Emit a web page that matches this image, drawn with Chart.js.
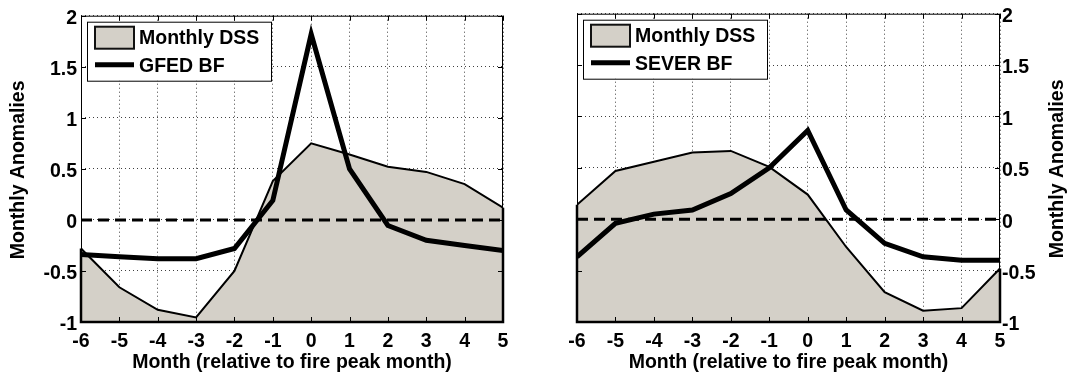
<!DOCTYPE html>
<html>
<head>
<meta charset="utf-8">
<script src="https://cdn.jsdelivr.net/npm/chart.js@4"></script>
<style>
  body { margin: 0; background: #fff; }
  #wrap { position: relative; width: 1071px; height: 376px; }
  canvas { position: absolute; top: 0; }
  #gfed-chart { left: 0; }
  #sever-chart { left: 540px; }
</style>
</head>
<body>
<div id="wrap">
  <canvas id="gfed-chart" width="540" height="376"></canvas>
  <canvas id="sever-chart" width="531" height="376"></canvas>
</div>
<script>
// months relative to the fire peak month
const months = [-6, -5, -4, -3, -2, -1, 0, 1, 2, 3, 4, 5];
const yTicks = [-1, -0.5, 0, 0.5, 1, 1.5, 2];

// left panel: DSS vs GFED burned fraction
const gfedDss = [-0.28, -0.66, -0.88, -0.955, -0.50, 0.38, 0.75, 0.64, 0.52, 0.47, 0.35, 0.12];
const gfedBf = [-0.34, -0.36, -0.38, -0.38, -0.28, 0.19, 1.82, 0.50, -0.055, -0.20, -0.25, -0.30];

// right panel: DSS vs SEVER burned fraction
const severDss = [0.14, 0.47, 0.56, 0.65, 0.665, 0.51, 0.24, -0.27, -0.71, -0.89, -0.865, -0.48];
const severBf = [-0.365, -0.04, 0.05, 0.09, 0.25, 0.50, 0.865, 0.09, -0.235, -0.365, -0.40, -0.40];

const FONT = '"Liberation Sans", Arial, sans-serif';
const GREY = '#d4d0c8';

function points(values) {
	return values.map((v, i) => ({ x: months[i], y: v }));
}

// zero line, patch edges, frame, inward ticks, legend box and side title
const framePlugin = {
	id: 'frame',
	afterDatasetDraw(chart, args) {
		if (args.index !== 0) return;
		const { ctx, chartArea: a, scales: { x, y } } = chart;
		const d = chart.data.datasets[0].data;
		ctx.save();
		ctx.strokeStyle = '#000';
		// outline of the filled DSS area
		ctx.lineWidth = 2.5;
		ctx.beginPath();
		ctx.moveTo(x.getPixelForValue(d[0].x), y.getPixelForValue(d[0].y));
		ctx.lineTo(x.getPixelForValue(d[0].x), a.bottom);
		ctx.lineTo(x.getPixelForValue(d[d.length - 1].x), a.bottom);
		ctx.lineTo(x.getPixelForValue(d[d.length - 1].x), y.getPixelForValue(d[d.length - 1].y));
		ctx.stroke();
		// dashed zero line
		const y0 = y.getPixelForValue(0);
		ctx.lineWidth = 3;
		ctx.setLineDash([11, 6]);
		ctx.beginPath();
		ctx.moveTo(a.left, y0);
		ctx.lineTo(a.right, y0);
		ctx.stroke();
		ctx.restore();
	},
	afterDraw(chart) {
		const { ctx, chartArea: a, scales: { x, y } } = chart;
		ctx.save();
		ctx.strokeStyle = '#000';
		ctx.lineWidth = 1;
		ctx.strokeRect(a.left + 0.5, a.top + 0.5, a.right - a.left - 1, a.bottom - a.top - 1);
		ctx.beginPath();
		x.ticks.forEach(t => {
			const px = Math.round(x.getPixelForValue(t.value)) + 0.5;
			ctx.moveTo(px, a.top); ctx.lineTo(px, a.top + 5);
			ctx.moveTo(px, a.bottom); ctx.lineTo(px, a.bottom - 5);
		});
		y.ticks.forEach(t => {
			const py = Math.round(y.getPixelForValue(t.value)) + 0.5;
			ctx.moveTo(a.left, py); ctx.lineTo(a.left + 5, py);
			ctx.moveTo(a.right, py); ctx.lineTo(a.right - 5, py);
		});
		ctx.stroke();

		// legend
		const ds = chart.data.datasets;
		const bx = a.left + 6, by = a.top + 6;
		ctx.fillStyle = '#fff';
		ctx.fillRect(bx, by, 184, 59);
		ctx.strokeRect(bx + 0.5, by + 0.5, 184, 59);
		ctx.fillStyle = GREY;
		ctx.fillRect(bx + 8, by + 5, 39, 22);
		ctx.lineWidth = 2;
		ctx.strokeStyle = '#111';
		ctx.strokeRect(bx + 8, by + 5, 39, 22);
		ctx.lineWidth = 5;
		ctx.strokeStyle = '#000';
		ctx.beginPath();
		ctx.moveTo(bx + 8, by + 43);
		ctx.lineTo(bx + 47, by + 43);
		ctx.stroke();
		ctx.fillStyle = '#000';
		ctx.font = 'bold 19.5px ' + FONT;
		ctx.textBaseline = 'middle';
		ctx.textAlign = 'left';
		ctx.fillText(ds[0].label, bx + 52, by + 17);
		ctx.fillText(ds[1].label, bx + 52, by + 45);

		// y axis title, read bottom to top on both sides
		const side = chart.options.plugins.frame.side;
		const tx = side === 'left' ? y.left + 19 : y.right - 13;
		ctx.translate(tx, (a.top + a.bottom) / 2 + 1);
		ctx.rotate(-Math.PI / 2);
		ctx.textAlign = 'center';
		ctx.fillText('Monthly Anomalies', 0, 0);
		ctx.restore();
	}
};

function makeChart(canvas, dss, bf, bfLabel, side) {
	return new Chart(canvas, {
		type: 'line',
		data: {
			datasets: [{
				label: 'Monthly DSS',
				data: points(dss),
				borderColor: '#000',
				borderWidth: 2,
				backgroundColor: GREY,
				fill: 'start',
				pointRadius: 0,
				order: 1
			}, {
				label: bfLabel,
				data: points(bf),
				borderColor: '#000',
				borderWidth: 5,
				fill: false,
				pointRadius: 0,
				order: 0
			}]
		},
		options: {
			responsive: false,
			animation: false,
			devicePixelRatio: 1,
			layout: {
				padding: side === 'left'
					? { left: 0, right: 37, top: 13, bottom: 0 }
					: { left: 37, right: 0, top: 13, bottom: 0 }
			},
			plugins: {
				legend: { display: false },
				tooltip: { enabled: false },
				frame: { side: side }
			},
			scales: {
				x: {
					type: 'linear',
					min: -6,
					max: 5,
					afterBuildTicks: s => { s.ticks = months.map(v => ({ value: v })); },
					afterFit: s => { s.height = 54; },
					grid: { color: 'rgba(0,0,0,0.75)', drawTicks: false },
					border: { display: false, dash: [1, 3] },
					ticks: {
						color: '#000',
						padding: 8,
						maxRotation: 0,
						font: { family: FONT, size: 19.5, weight: 'bold' },
						callback: v => String(v)
					},
					title: {
						display: true,
						text: 'Month (relative to fire peak month)',
						color: '#000',
						font: { family: FONT, size: 19.5, weight: 'bold' },
						padding: { top: 0, bottom: 2 }
					}
				},
				y: {
					position: side,
					min: -1,
					max: 2,
					afterBuildTicks: s => { s.ticks = yTicks.map(v => ({ value: v })); },
					afterFit: s => { s.width = side === 'left' ? 81 : 71; },
					grid: { color: 'rgba(0,0,0,0.75)', drawTicks: false },
					border: { display: false, dash: [1, 3] },
					ticks: {
						color: '#000',
						padding: side === 'left' ? 4 : 2,
						labelOffset: 3,
						font: { family: FONT, size: 19.5, weight: 'bold' },
						callback: v => String(v)
					}
				}
			}
		},
		plugins: [framePlugin]
	});
}

makeChart(document.getElementById('gfed-chart'), gfedDss, gfedBf, 'GFED BF', 'left');
makeChart(document.getElementById('sever-chart'), severDss, severBf, 'SEVER BF', 'right');
</script>
</body>
</html>
